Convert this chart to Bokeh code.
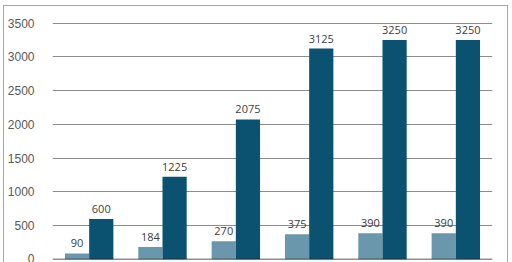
from bokeh.plotting import figure
from bokeh.models import (ColumnDataSource, FactorRange, Range1d, LabelSet,
                          SingleIntervalTicker, Span, InlineStyleSheet)
from bokeh.core.properties import value
from bokeh.transform import dodge
from bokeh.embed import file_html
from bokeh.resources import INLINE

categories = ["1", "2", "3", "4", "5", "6"]
series_light = [90, 184, 270, 375, 390, 390]
series_dark = [600, 1225, 2075, 3125, 3250, 3250]

src = ColumnDataSource(dict(
    cat=categories,
    light=series_light,
    dark=series_dark,
    light_txt=[str(v) for v in series_light],
    dark_txt=[str(v) for v in series_dark],
))

border_css = InlineStyleSheet(css=""":host::after { content: ''; position: absolute;
 left: 3px; top: 5px; right: 4px; bottom: 0px; border: 1px solid #A6A6A6;
 border-bottom: none; pointer-events: none; box-sizing: border-box; }""")

p = figure(width=512, height=262, x_range=FactorRange(*categories, range_padding=0),
           y_range=Range1d(0, 3718), output_backend="svg", toolbar_location=None,
           min_border_left=52, min_border_right=20, min_border_top=8, min_border_bottom=3,
           stylesheets=[border_css])

p.vbar(x=dodge("cat", -0.165, range=p.x_range), top="light", width=0.33,
       source=src, fill_color="#6A97AC", line_color=None)
p.vbar(x=dodge("cat", 0.165, range=p.x_range), top="dark", width=0.33,
       source=src, fill_color="#0B5170", line_color=None)

for col, txt, off in (("light", "light_txt", -0.165), ("dark", "dark_txt", 0.165)):
    p.add_layout(LabelSet(x=dodge("cat", off, range=p.x_range), y=col, text=txt,
                          source=src, text_align="center", text_baseline="bottom",
                          y_offset=6, text_font=value("Open Sans"), text_font_size="11px",
                          text_color="#404040"))

p.xaxis.visible = False
p.xgrid.visible = False
p.ygrid.grid_line_color = "#8C8C8C"
p.ygrid.grid_line_width = 1
p.yaxis.ticker = SingleIntervalTicker(interval=500)
p.yaxis.axis_line_color = None
p.yaxis.major_tick_line_color = None
p.yaxis.minor_tick_line_color = None
p.yaxis.major_label_standoff = 12
p.yaxis.major_label_text_font = "Liberation Sans"
p.yaxis.major_label_text_font_size = "12px"
p.yaxis.major_label_text_color = "#595959"
p.outline_line_color = None

p.add_layout(Span(location=0, dimension="width", line_color="#222222", line_width=1.5))

open("out.html", "w").write(file_html(p, INLINE))
